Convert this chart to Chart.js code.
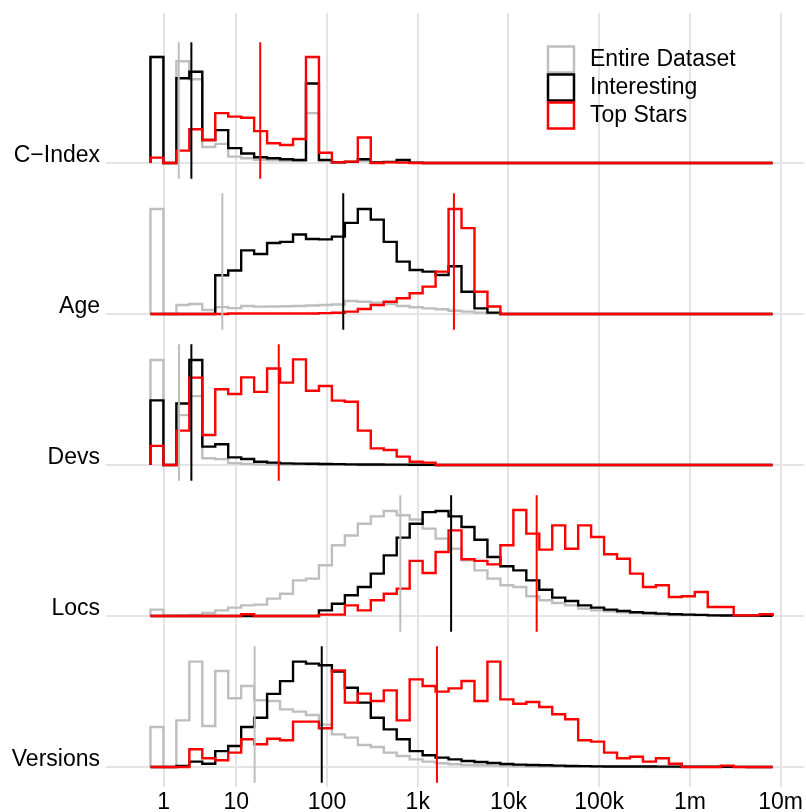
<!DOCTYPE html>
<html>
<head>
<meta charset="utf-8">
<script src="https://cdn.jsdelivr.net/npm/chart.js@4.4.1/dist/chart.umd.min.js"></script>
<style>
  html, body { margin: 0; padding: 0; background: #fff; }
  #wrap { width: 806px; height: 812px; }
</style>
</head>
<body>
<div id="wrap"><canvas id="myChart"></canvas></div>
<script>
const panels = ['C−Index', 'Age', 'Devs', 'Locs', 'Versions'];
const seriesNames = ['Entire Dataset', 'Interesting', 'Top Stars'];
const tickLabels = ['1', '10', '100', '1k', '10k', '100k', '1m', '10m'];
const tickValues = [0.2, 1, 2, 3, 4, 5, 6, 7];   // log10 positions on the axis

// histogram bins: 48 bins of 1/7 decade
const binStart = 0.054;
const binWidth = 1 / 7;

// bar heights, 100 = tallest bar of the panel
const cindexAll = [
  100, 0, 96, 79, 15, 18, 6, 4.4, 3, 2.5, 2, 2,
  47, 2.5, 0.6, 1, 2, 0.4, 0.8, 2, 0.3, 0, 0, 0,
  0, 0, 0, 0, 0, 0, 0, 0, 0, 0, 0, 0,
  0, 0, 0, 0, 0, 0, 0, 0, 0, 0, 0, 0];
const cindexInteresting = [
  100, 0, 80, 86, 21.7, 31, 14, 9, 5.4, 4.4, 3.5, 2.8,
  75, 2.8, 0.6, 1, 3.5, 0.5, 1, 2.8, 0.3, 0, 0, 0,
  0, 0, 0, 0, 0, 0, 0, 0, 0, 0, 0, 0,
  0, 0, 0, 0, 0, 0, 0, 0, 0, 0, 0, 0];
const cindexTop = [
  5, 0, 11.6, 31.8, 21.7, 47, 43.7, 42.7, 30, 18.6, 17, 22.6,
  100, 9.7, 0.6, 1.3, 24, 0, 0.6, 0.3, 0, 0, 0, 0,
  0, 0, 0, 0, 0, 0, 0, 0, 0, 0, 0, 0,
  0, 0, 0, 0, 0, 0, 0, 0, 0, 0, 0, 0];

const ageAll = [
  99, 0, 8.5, 9.4, 3.8, 6.5, 5.5, 7.5, 6.9, 7, 7.3, 7.5,
  8, 8.5, 9, 12.3, 11.6, 10.7, 9.4, 7.5, 6.3, 5.3, 4.4, 3,
  2.2, 1.3, 0.6, 0, 0, 0, 0, 0, 0, 0, 0, 0,
  0, 0, 0, 0, 0, 0, 0, 0, 0, 0, 0, 0];
const ageInteresting = [
  0, 0, 0, 0, 0, 36.5, 41, 60, 56.6, 67, 68, 75,
  70.8, 70.4, 73, 86, 99, 89, 68, 49.4, 41.5, 40, 36.8, 45,
  21, 5.3, 1.3, 0, 0, 0, 0, 0, 0, 0, 0, 0,
  0, 0, 0, 0, 0, 0, 0, 0, 0, 0, 0, 0];
const ageTop = [
  0, 0, 0, 0, 0, 0, 0.5, 0.5, 0.5, 0.5, 0.5, 0.5,
  0.5, 0.8, 1.2, 2.2, 4.7, 8.5, 11.6, 14.8, 19.5, 25.8, 40, 99,
  81, 21, 7, 0, 0, 0, 0, 0, 0, 0, 0, 0,
  0, 0, 0, 0, 0, 0, 0, 0, 0, 0, 0, 0];

const devsAll = [
  99, 0, 47, 65, 6.3, 5.5, 1.7, 1, 0.6, 0.5, 0.4, 0.3,
  0.3, 0.2, 0.2, 0.1, 0, 0, 0, 0, 0, 0, 0, 0,
  0, 0, 0, 0, 0, 0, 0, 0, 0, 0, 0, 0,
  0, 0, 0, 0, 0, 0, 0, 0, 0, 0, 0, 0];
const devsInteresting = [
  61, 0, 58, 99, 17.3, 19.5, 7.2, 5.7, 3.1, 2.2, 1.5, 1.3,
  1.1, 0.9, 0.8, 0.6, 0.5, 0.4, 0.3, 0.3, 0.2, 0.1, 0, 0,
  0, 0, 0, 0, 0, 0, 0, 0, 0, 0, 0, 0,
  0, 0, 0, 0, 0, 0, 0, 0, 0, 0, 0, 0];
const devsTop = [
  18, 0, 32.4, 82.4, 28.3, 71.4, 67, 82.7, 69, 91, 77.7, 99.7,
  70, 74.5, 60.7, 59.7, 32.4, 15.7, 14.2, 7.9, 3.1, 2.2, 0, 0,
  0, 0, 0, 0, 0, 0, 0, 0, 0, 0, 0, 0,
  0, 0, 0, 0, 0, 0, 0, 0, 0, 0, 0, 0];

const locsAll = [
  6, 0.3, 0.5, 0.9, 2.8, 5.3, 7.9, 10, 10.7, 16.4, 21, 33.6,
  35.2, 47.8, 66.7, 76, 87, 94, 99, 95, 91, 82.4, 73, 63.5,
  52.5, 43, 35.2, 29, 27.4, 18.6, 14.8, 12.3, 10, 6.9, 5.3, 4.4,
  3.5, 2.8, 2.2, 1.6, 1.3, 1, 0.8, 0.6, 0.4, 0.3, 0.2, 0.2];
const locsInteresting = [
  0, 0, 0, 0, 0, 0, 0, 0, 0, 0, 0, 0,
  0, 5.3, 11.6, 19.5, 27.4, 40, 57.2, 73.9, 87, 98, 99, 94,
  84, 72, 55.7, 46.9, 43, 33.6, 24.8, 17.3, 14.2, 10, 7.9, 6,
  4.7, 3.5, 2.8, 2.2, 1.6, 1.3, 1, 0.6, 0.4, 0.3, 0.3, 0.2];
const locsTop = [
  0, 0, 0, 0, 0, 0, 0, 1.6, 0, 0, 0, 0,
  0, 1.3, 1.3, 10, 5.3, 14.8, 21, 25.8, 52, 40.6, 60.4, 80.8,
  53.5, 52, 48.7, 66.7, 100, 77.7, 62.6, 85.5, 63.5, 85.5, 74.5, 58.2,
  54, 40, 27.4, 29, 17.9, 18.6, 22.6, 8.5, 8.5, 0.6, 0.6, 1.6];

const versionsAll = [
  37.7, 0, 44, 99.4, 38.7, 90.6, 64.8, 76.4, 62.9, 62.3, 54.4, 52.2,
  49, 40, 30.8, 27.7, 20.8, 18.9, 13.5, 10.4, 7.2, 5, 3.5, 2.5,
  1.9, 1.6, 1.3, 0.9, 0.6, 0.5, 0.4, 0.3, 0.3, 0.2, 0.2, 0.1,
  0.1, 0.1, 0, 0, 0, 0, 0, 0, 0, 0, 0, 0];
const versionsInteresting = [
  0, 0, 0.9, 5, 3.1, 15, 19.8, 37.7, 46.5, 69, 81, 99.4,
  97.5, 96, 90, 74.8, 60.7, 46.5, 35.5, 26.1, 15, 11, 8.8, 7.2,
  5.7, 4.7, 3.8, 2.8, 2.2, 1.9, 1.6, 1.3, 0.9, 0.8, 0.6, 0.5,
  0.5, 0.4, 0.4, 0.3, 0.3, 0.3, 0.2, 0.2, 0.1, 0.1, 0, 0];
const versionsTop = [
  0, 0, 0, 16.7, 8.2, 6.3, 13.5, 26.1, 21.4, 26.7, 25.2, 42.8,
  42.8, 36.5, 91.2, 60.7, 69.2, 62.3, 72.3, 44, 82.7, 76.4, 71.1, 74.2,
  81.1, 62.3, 99.4, 63.8, 59.7, 61.3, 56.6, 49.7, 45, 25.2, 23.9, 13.5,
  8.2, 9.7, 5, 8.2, 3.1, 0, 0, 0, 1.3, 0, 0, 0];

// medians (log10 axis units), one per panel
const medianAll = [0.366, 0.846, 0.369, 2.808, 1.202];
const medianInteresting = [0.505, 2.179, 0.505, 3.368, 1.942];
const medianTop = [1.264, 3.399, 1.468, 4.311, 3.212];

const panelSeries = [
  [cindexAll, cindexInteresting, cindexTop],
  [ageAll, ageInteresting, ageTop],
  [devsAll, devsInteresting, devsTop],
  [locsAll, locsInteresting, locsTop],
  [versionsAll, versionsInteresting, versionsTop]
];
const medians = [medianAll, medianInteresting, medianTop];

const colors = ['#bebebe', '#000000', '#ff0000'];
const FONT = 'Liberation Sans';

// outline of a histogram, drawn with stepped lines
function steps(vals) {
  const end = binStart + vals.length * binWidth;
  const pts = [{x: binStart, y: 0}];
  vals.forEach((v, i) => pts.push({x: binStart + i * binWidth, y: v}));
  pts.push({x: end, y: vals[vals.length - 1]});
  pts.push({x: end, y: 0});
  return pts;
}

const datasets = [];
const scales = {
  x: {
    type: 'linear',
    min: -0.436,
    max: 7.256,
    afterBuildTicks: s => { s.ticks = tickValues.map(v => ({value: v})); },
    afterFit: s => { s.height = 25; },
    ticks: {
      callback: (v, i) => tickLabels[i],
      color: '#000',
      font: {family: FONT, size: 23, lineHeight: 1.1},
      padding: 3,
      maxRotation: 0,
      autoSkip: false
    },
    grid: {color: '#e4e4e4', lineWidth: 2, drawTicks: false},
    border: {display: false}
  }
};

panels.forEach((name, p) => {
  const yid = 'y' + p;
  scales[yid] = {
    type: 'linear',
    position: 'left',
    stack: 'panels',
    stackWeight: p === 0 ? 170 : 151,
    weight: panels.length - p,
    min: -18.9,
    max: p === 0 ? 141.5 : 123.6,
    afterBuildTicks: s => { s.ticks = [{value: 0}]; },
    afterFit: s => {
      s.width = 106;
      s.paddingTop = 0;
      s.paddingBottom = 0;
    },
    ticks: {
      callback: () => name,
      color: '#000',
      font: {family: FONT, size: 23},
      padding: 6,
      labelOffset: -7
    },
    grid: {color: '#e4e4e4', lineWidth: 2, drawTicks: false},
    border: {display: false}
  };

  panelSeries[p].forEach((vals, s) => {
    datasets.push({
      label: seriesNames[s],
      data: steps(vals),
      yAxisID: yid,
      borderColor: colors[s],
      borderWidth: 2.4,
      stepped: true,
      pointRadius: 0,
      fill: false,
      order: 13 - s
    });
  });

  medians.forEach((m, s) => {
    datasets.push({
      label: seriesNames[s] + ' median',
      data: [{x: m[p], y: -15}, {x: m[p], y: 114}],
      yAxisID: yid,
      borderColor: colors[s],
      borderWidth: 2,
      pointRadius: 0,
      fill: false,
      order: 3 - s
    });
  });
});

// legend with open squares, top right
const boxLegend = {
  id: 'boxLegend',
  afterDraw(chart) {
    const ctx = chart.ctx;
    ctx.save();
    ctx.font = '23px "' + FONT + '"';
    ctx.textBaseline = 'middle';
    seriesNames.forEach((name, i) => {
      const cy = 59.5 + i * 28;
      ctx.strokeStyle = colors[i];
      ctx.lineWidth = 2.5;
      ctx.strokeRect(548, cy - 13, 26, 26);
      ctx.fillStyle = '#000';
      ctx.fillText(name, 590, cy);
    });
    ctx.restore();
  }
};

const ctx = document.getElementById('myChart').getContext('2d');
const myChart = new Chart(ctx, {
  type: 'line',
  data: {datasets: datasets},
  options: {
    responsive: true,
    maintainAspectRatio: false,
    animation: false,
    devicePixelRatio: 1,
    events: [],
    layout: {padding: {top: 13, left: 0, right: 0, bottom: 0}},
    scales: scales,
    plugins: {legend: {display: false}, tooltip: {enabled: false}}
  },
  plugins: [boxLegend]
});
</script>
</body>
</html>
